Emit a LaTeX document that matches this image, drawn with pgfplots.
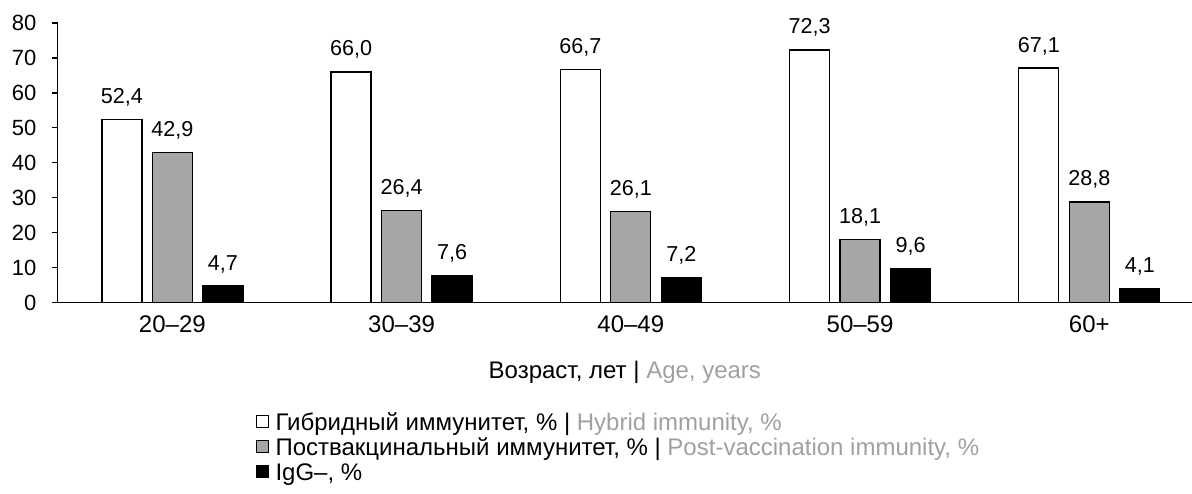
\documentclass[border=0pt]{standalone}
\usepackage{pgfplots}
\pgfplotsset{compat=1.18}
\usepackage{fontspec}
\setmainfont{Liberation Sans}
\definecolor{barg}{HTML}{A6A6A6}
\definecolor{engg}{HTML}{A0A0A0}
\newcommand{\fs}{\fontsize{10.8}{13}\selectfont}
\newcommand{\fy}{\fontsize{11}{13}\selectfont}
\newcommand{\fl}{\fontsize{12}{14}\selectfont}
\begin{document}
\fs
\begin{tikzpicture}
\begin{axis}[
  scale only axis, width=567.15pt, height=139.75pt,
  xmin=-0.5, xmax=4.448, ymin=0, ymax=80,
  ytick={0,10,...,80},
  xtick={0,...,4}, xticklabels={20--29,30--39,40--49,50--59,60+},
  axis x line*=bottom, axis y line*=left, axis line style={-, line width=0.65pt, black},
  /pgf/number format/assume math mode=true,
  yticklabel style={font=\fy, xshift=-3.9pt},
  xticklabel style={font=\fl, yshift=0.2pt},
  ytick style={line width=0.65pt, black}, tick align=outside, major tick length=3pt,
  xtick style={draw=none},
  xlabel={Возраст, лет | \textcolor{engg}{Age, years}},
  xlabel style={at={(0.5,0)}, anchor=center, yshift=-34.75pt, font=\fl},
  ybar, bar width=20pt,
  nodes near coords,
  every node near coord/.append style={anchor=base, inner sep=0pt, yshift=8pt, font=\fs, /pgf/number format/.cd, use comma, fixed, fixed zerofill, precision=1},
  legend style={at={(0.1748,-0.3975)}, anchor=north west, draw=none, fill=none, font=\fl, row sep=1.25pt, inner sep=0pt,
     nodes={inner sep=0.5pt, text height=7.75pt, text depth=2.5pt}},
  legend cell align=left,
  legend image code/.code={\draw[#1, line width=0.5pt] (0pt,-1pt) rectangle (6pt,5pt); \path (8.5pt,-1pt);},
  clip=false,
]
\addplot[bar shift=-25.25pt, fill=white, draw=black, line width=0.65pt] coordinates {(0,52.4) (1,66.0) (2,66.7) (3,72.3) (4,67.1)};
\addlegendentry{Гибридный иммунитет, \% | \textcolor{engg}{Hybrid immunity, \%}}
\addplot[bar shift=0pt, fill=barg, draw=black, line width=0.65pt] coordinates {(0,42.9) (1,26.4) (2,26.1) (3,18.1) (4,28.8)};
\addlegendentry{Поствакцинальный иммунитет, \% | \textcolor{engg}{Post-vaccination immunity, \%}}
\addplot[bar shift=25.25pt, fill=black, draw=black, line width=0.65pt] coordinates {(0,4.7) (1,7.6) (2,7.2) (3,9.6) (4,4.1)};
\addlegendentry{IgG--, \%}
\coordinate (bbl) at (rel axis cs:-0.0509,-0.6852);
\coordinate (btr) at (rel axis cs:1,1.0823);
\end{axis}
\pgfresetboundingbox
\path (bbl) rectangle (btr);
\end{tikzpicture}
\end{document}
